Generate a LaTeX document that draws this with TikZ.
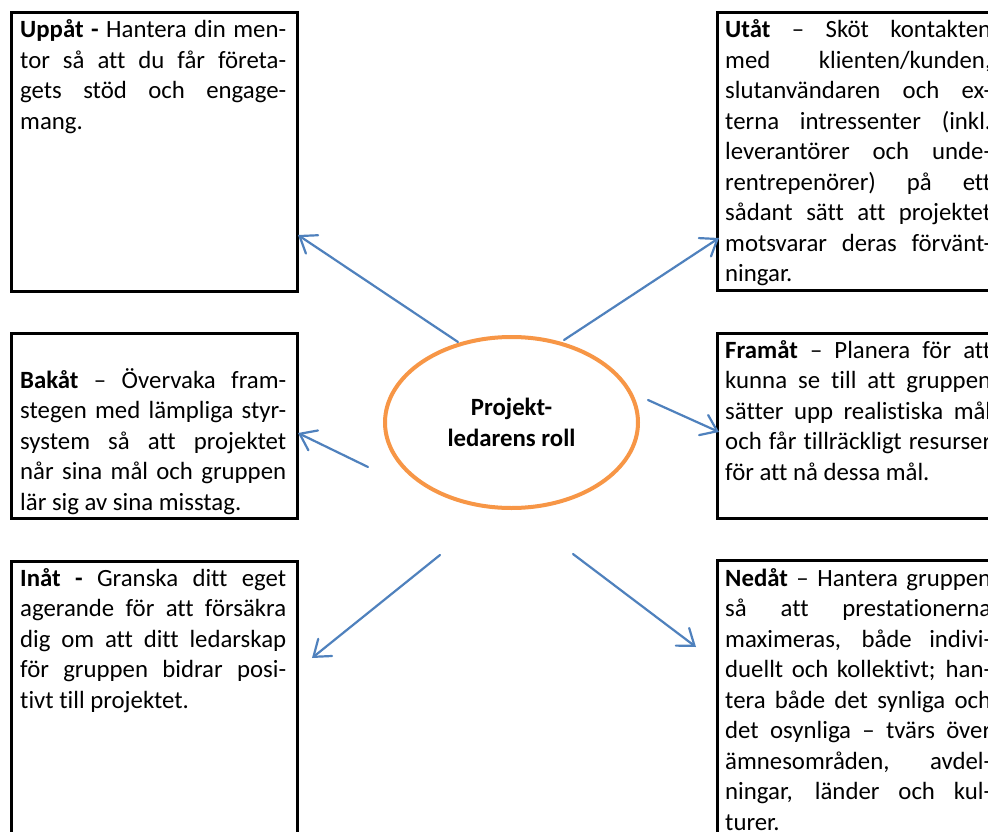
\documentclass[tikz,border=0pt]{standalone}
\usepackage{fontspec}
\setmainfont{Carlito}[Ligatures={NoCommon}]
\usetikzlibrary{shapes.geometric,arrows.meta}
\definecolor{orng}{HTML}{F79646}
\definecolor{blu}{HTML}{4F81BD}
\newlength\tw \setlength\tw{266pt}
\newcommand\jl[1]{\hbox to \tw{#1}}
\begin{document}
\begin{tikzpicture}[x=1pt,y=-1pt,
  frame/.style={draw=black,line width=3pt,inner sep=0pt,anchor=north west},
  txt/.style={inner sep=0pt,anchor=base west,font=\fontsize{24.8}{30.5}\selectfont},
  arr/.style={draw=blu,line width=2.2pt,line cap=round,-{Straight Barb[length=15pt,width=22pt,line cap=round]}}]
\clip (0,0) rectangle (988,832);
\fill[white] (0,0) rectangle (988,832);
% frames
\node[frame,minimum width=286pt,minimum height=279pt] (f1) at (10,11) {};
\node[frame,minimum width=286pt,minimum height=278pt] (f2) at (716,11) {};
\node[frame,minimum width=286pt,minimum height=185pt] (f3) at (10,332) {};
\node[frame,minimum width=286pt,minimum height=185pt] (f4) at (716,332) {};
\node[frame,minimum width=286pt,minimum height=300pt] (f5) at (10,560) {};
\node[frame,minimum width=286pt,minimum height=300pt] (f6) at (716,559) {};
% texts
\node[txt] (uppat) at (20,38) {\vtop{%
\jl{\textbf{Uppåt -} Hantera din men-}
\jl{tor så att du får företa-}
\jl{gets stöd och engage-}
\hbox{mang.}}};
\node[txt] (utat) at (725,38) {\vtop{%
\jl{\textbf{Utåt} – Sköt kontakten}
\jl{med klienten/kunden,}
\jl{slutanvändaren och ex-}
\jl{terna intressenter (inkl.}
\jl{leverantörer och unde-}
\jl{rentrepenörer) på ett}
\jl{sådant sätt att projektet}
\jl{motsvarar deras förvänt-}
\hbox{ningar.}}};
\node[txt] (framat) at (725,358) {\vtop{%
\jl{\textbf{Framåt} – Planera för att}
\jl{kunna se till att gruppen}
\jl{sätter upp realistiska mål}
\jl{och får tillräckligt resurser}
\hbox{för att nå dessa mål.}}};
\node[txt] (bakat) at (20,388) {\vtop{%
\jl{\textbf{Bakåt} – Övervaka fram-}
\jl{stegen med lämpliga styr-}
\jl{system så att projektet}
\jl{når sina mål och gruppen}
\hbox{lär sig av sina misstag.}}};
\node[txt] (inat) at (20,586) {\vtop{%
\jl{\textbf{Inåt -} Granska ditt eget}
\jl{agerande för att försäkra}
\jl{dig om att ditt ledarskap}
\jl{för gruppen bidrar posi-}
\hbox{tivt till projektet.}}};
\node[txt] (nedat) at (725,586) {\vtop{%
\jl{\textbf{Nedåt} – Hantera gruppen}
\jl{så att prestationerna}
\jl{maximeras, både indivi-}
\jl{duellt och kollektivt; han-}
\jl{tera både det synliga och}
\jl{det osynliga – tvärs över}
\jl{ämnesområden, avdel-}
\jl{ningar, länder och kul-}
\hbox{turer.}}};
% centre
\node[ellipse,draw=orng,line width=4pt,minimum width=253pt,minimum height=171pt,
  inner sep=0pt,align=center,font=\bfseries\fontsize{24.8}{31}\selectfont] (c) at (511.5,422.5) {Projekt-\\ledarens roll};
% arrow ends
\coordinate (s1) at (458,342); \coordinate (e1) at (298,235);
\coordinate (s2) at (564,340); \coordinate (e2) at (719,238);
\coordinate (s3) at (648,400); \coordinate (e3) at (719,432);
\coordinate (s4) at (368,467); \coordinate (e4) at (298,433);
\coordinate (s5) at (440,555); \coordinate (e5) at (312,658);
\coordinate (s6) at (573,554); \coordinate (e6) at (696,647);
\draw[arr] (s1) -- (e1);
\draw[arr] (s2) -- (e2);
\draw[arr] (s3) -- (e3);
\draw[arr] (s4) -- (e4);
\draw[arr] (s5) -- (e5);
\draw[arr] (s6) -- (e6);
\end{tikzpicture}
\end{document}
